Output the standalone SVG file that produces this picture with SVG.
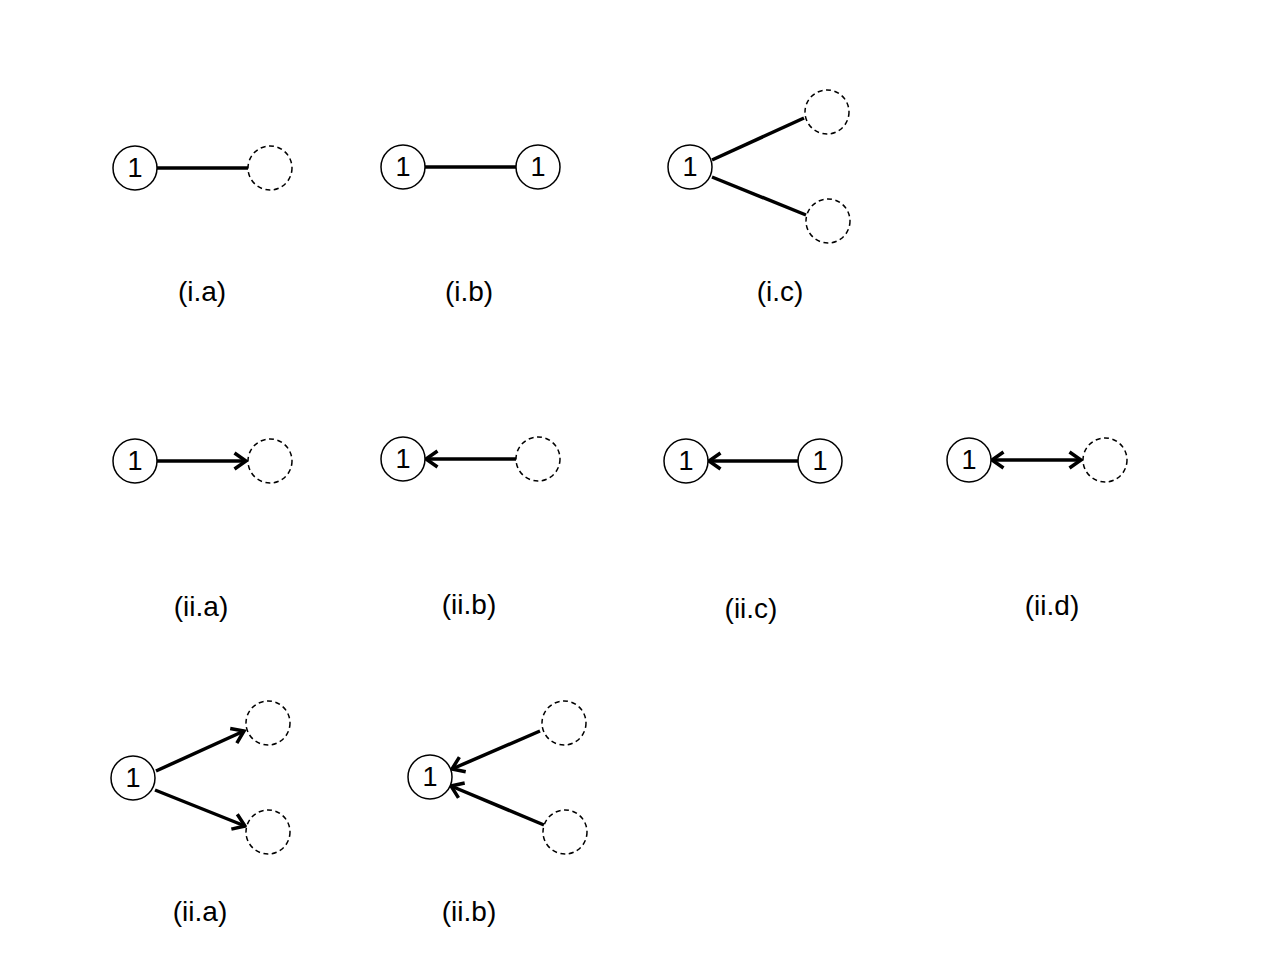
<svg xmlns="http://www.w3.org/2000/svg" width="1262" height="974" viewBox="0 0 1262 974">
<style>
.n{fill:#fff;stroke:#000;stroke-width:1.5}
.d{fill:#fff;stroke:#000;stroke-width:1.5;stroke-dasharray:5 3.5}
.t{font-family:"Liberation Sans",Arial,sans-serif;font-size:27px;text-anchor:middle;dominant-baseline:central;fill:#000}
.l{font-family:"Liberation Sans",Arial,sans-serif;font-size:28px;text-anchor:middle;fill:#000}
.e{stroke:#000;stroke-width:3.5;fill:none}
.a{stroke:#000;stroke-width:3.5;fill:none;marker-end:url(#ah)}
.b{stroke:#000;stroke-width:3.5;fill:none;marker-end:url(#ah);marker-start:url(#ah)}
</style>
<defs>
<marker id="ah" viewBox="0 0 16 20" refX="13.5" refY="10" markerWidth="16" markerHeight="20" markerUnits="userSpaceOnUse" orient="auto-start-reverse">
<path d="M2,2 L13.5,10 L2,18" fill="none" stroke="#000" stroke-width="3.5" stroke-linejoin="miter"/>
</marker>
</defs>
<rect width="1262" height="974" fill="#fff"/>
<g id="connectors">
<line class="e" x1="157" y1="168" x2="248" y2="168"/>
<line class="e" x1="425" y1="167" x2="516" y2="167"/>
<line class="e" x1="712" y1="160" x2="804" y2="118"/>
<line class="e" x1="712" y1="177" x2="806" y2="215"/>
<line class="a" x1="157" y1="461" x2="246" y2="461"/>
<line class="a" x1="516" y1="459" x2="426" y2="459"/>
<line class="a" x1="798" y1="461" x2="709" y2="461"/>
<line class="b" x1="992" y1="460" x2="1081" y2="460"/>
<line class="a" x1="156" y1="771" x2="244" y2="731"/>
<line class="a" x1="155" y1="790" x2="245" y2="826"/>
<line class="a" x1="540" y1="731" x2="452" y2="769"/>
<line class="a" x1="544" y1="825" x2="451" y2="786"/>
</g>
<g id="ia-1"><circle class="n" cx="135" cy="168" r="22"/><text class="t" x="135" y="168">1</text></g>
<g id="ia-2"><circle class="d" cx="270" cy="168" r="22"/></g>
<g id="ib-1"><circle class="n" cx="403" cy="167" r="22"/><text class="t" x="403" y="167">1</text></g>
<g id="ib-2"><circle class="n" cx="538" cy="167" r="22"/><text class="t" x="538" y="167">1</text></g>
<g id="ic-1"><circle class="n" cx="690" cy="167" r="22"/><text class="t" x="690" y="167">1</text></g>
<g id="ic-2"><circle class="d" cx="827" cy="112" r="22"/></g>
<g id="ic-3"><circle class="d" cx="828" cy="221" r="22"/></g>
<g id="iia-1"><circle class="n" cx="135" cy="461" r="22"/><text class="t" x="135" y="461">1</text></g>
<g id="iia-2"><circle class="d" cx="270" cy="461" r="22"/></g>
<g id="iib-1"><circle class="n" cx="403" cy="459" r="22"/><text class="t" x="403" y="459">1</text></g>
<g id="iib-2"><circle class="d" cx="538" cy="459" r="22"/></g>
<g id="iic-1"><circle class="n" cx="686" cy="461" r="22"/><text class="t" x="686" y="461">1</text></g>
<g id="iic-2"><circle class="n" cx="820" cy="461" r="22"/><text class="t" x="820" y="461">1</text></g>
<g id="iid-1"><circle class="n" cx="969" cy="460" r="22"/><text class="t" x="969" y="460">1</text></g>
<g id="iid-2"><circle class="d" cx="1105" cy="460" r="22"/></g>
<g id="iia2-1"><circle class="n" cx="133" cy="778" r="22"/><text class="t" x="133" y="778">1</text></g>
<g id="iia2-2"><circle class="d" cx="268" cy="723" r="22"/></g>
<g id="iia2-3"><circle class="d" cx="268" cy="832" r="22"/></g>
<g id="iib2-1"><circle class="n" cx="430" cy="777" r="22"/><text class="t" x="430" y="777">1</text></g>
<g id="iib2-2"><circle class="d" cx="564" cy="723" r="22"/></g>
<g id="iib2-3"><circle class="d" cx="565" cy="832" r="22"/></g>
<g id="labels">
<text class="l" x="202" y="301">(i.a)</text>
<text class="l" x="469" y="301">(i.b)</text>
<text class="l" x="780" y="301">(i.c)</text>
<text class="l" x="201" y="616">(ii.a)</text>
<text class="l" x="469" y="614">(ii.b)</text>
<text class="l" x="751" y="618">(ii.c)</text>
<text class="l" x="1052" y="615">(ii.d)</text>
<text class="l" x="200" y="921">(ii.a)</text>
<text class="l" x="469" y="921">(ii.b)</text>
</g>
</svg>
